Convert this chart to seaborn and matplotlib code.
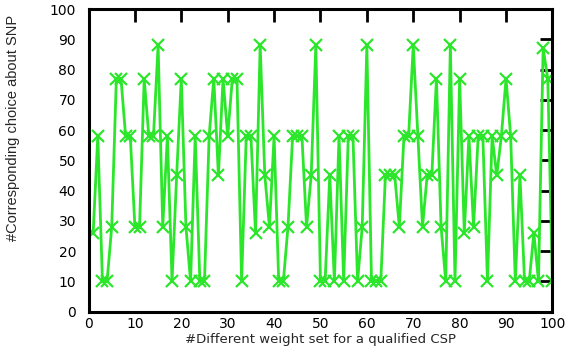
"""Gnuplot-style line chart: SNP choice for each weight set of a qualified CSP."""

import matplotlib
matplotlib.use("Agg")
import matplotlib.pyplot as plt
import pandas as pd
import seaborn as sns
from matplotlib.ticker import MultipleLocator

# weight-set index 1..100 and the chosen SNP for each one
weight_set = list(range(1, 101))
snp_choice = [
    26, 58, 10, 10, 28, 77, 77, 58, 58, 28,
    28, 77, 58, 58, 88, 28, 58, 10, 45, 77,
    28, 10, 58, 10, 10, 58, 77, 45, 77, 58,
    77, 77, 10, 58, 58, 26, 88, 45, 28, 58,
    10, 10, 28, 58, 58, 58, 28, 45, 88, 10,
    10, 45, 10, 58, 10, 58, 58, 10, 28, 88,
    10, 10, 10, 45, 45, 45, 28, 58, 58, 88,
    58, 28, 45, 45, 77, 28, 10, 88, 10, 77,
    26, 58, 28, 58, 58, 10, 58, 45, 58, 77,
    58, 10, 45, 10, 10, 26, 10, 87, 77, 10,
]
x_ticks = list(range(0, 101, 10))
y_ticks = list(range(0, 101, 10))

GREEN = "#2be62b"


def main() -> None:
    sns.set_style("white")
    plt.rcParams["font.family"] = ["DejaVu Sans"]

    df = pd.DataFrame({"set": weight_set, "choice": snp_choice})

    fig = plt.figure(figsize=(5.66, 3.5), dpi=100)
    ax = fig.add_axes([0.1564, 0.11, 0.8196, 0.864])
    sns.lineplot(
        data=df, x="set", y="choice", ax=ax, color=GREEN, linewidth=2,
        marker="x", markersize=9, markeredgewidth=1.6,
        markeredgecolor=GREEN, sort=False,
    )

    ax.set_xlim(0, 100)
    ax.set_ylim(0, 100)
    ax.set_xticks(x_ticks)
    ax.set_yticks(y_ticks)
    # short outward stubs on left/bottom, same spots as the inner ticks
    ax.xaxis.set_minor_locator(MultipleLocator(10))
    ax.yaxis.set_minor_locator(MultipleLocator(10))
    ax.xaxis.remove_overlapping_locs = False
    ax.yaxis.remove_overlapping_locs = False
    ax.tick_params(which="major", direction="in", length=9, width=2,
                   top=True, right=True, labelsize=10, colors="black")
    ax.tick_params(axis="x", which="major", pad=4)
    ax.tick_params(axis="y", which="major", pad=9)
    ax.tick_params(which="minor", direction="out", length=3, width=2,
                   top=False, right=False, labelbottom=False, labelleft=False)

    for s in ax.spines.values():
        s.set_linewidth(2.2)
        s.set_color("black")

    ax.set_xlabel("#Different weight set for a qualified CSP", fontsize=9.5)
    ax.xaxis.set_label_coords(0.5, -0.071)
    ax.set_ylabel("#Corresponding choice about SNP", fontsize=10.5,
                  family=["Liberation Sans Narrow", "DejaVu Sans Condensed",
                          "Liberation Sans"])
    ax.yaxis.set_label_coords(-0.147, 0.607)

    fig.savefig("out.png", dpi=100)
    plt.close(fig)


if __name__ == "__main__":
    main()
